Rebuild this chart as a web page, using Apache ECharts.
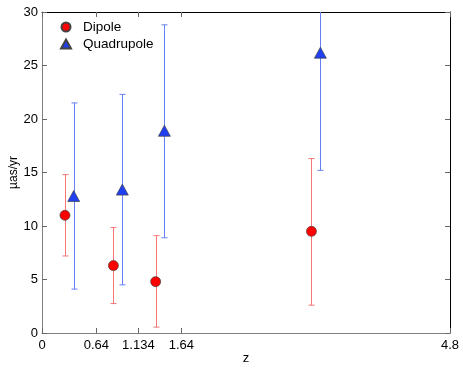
<!DOCTYPE html>
<html lang="en">
<head>
    <meta charset="UTF-8">
    <title>Dipole / Quadrupole</title>
    <script src="https://cdn.jsdelivr.net/npm/echarts@6.0.0/dist/echarts.min.js"></script>
    <style>
        html, body { margin: 0; padding: 0; background: #fff; }
    </style>
</head>
<body>
    <div id="main" style="width: 463px;height:369px;"></div>

    <script>
        // x ticks used on the plot
        var xTicks = [0, 0.64, 1.134, 1.64, 4.8];

        // dipole: z, value, lower, upper
        var dipoleZ = [0.27, 0.84, 1.337, 3.17];
        var dipoleVal = [11.0, 6.3, 4.8, 9.5];
        var dipoleLow = [7.2, 2.75, 0.55, 2.6];
        var dipoleHigh = [14.8, 9.85, 9.1, 16.3];

        // quadrupole
        var quadZ = [0.373, 0.945, 1.44, 3.275];
        var quadVal = [12.8, 13.4, 18.9, 26.2];
        var quadLow = [4.1, 4.5, 8.9, 15.2];
        var quadHigh = [21.5, 22.3, 28.8, 37.0];

        var font = 'Liberation Sans, Arial, sans-serif';

        function pack(zs, lo, hi) {
            return zs.map(function (z, i) { return [z, lo[i], hi[i]]; });
        }

        function errBar(color) {
            return function (params, api) {
                var cs = params.coordSys;
                var top = api.coord([api.value(0), api.value(2)]);
                var bot = api.coord([api.value(0), api.value(1)]);
                var x = Math.round(top[0]) + 0.5;
                var yTop = Math.max(top[1], cs.y);
                var yBot = Math.min(bot[1], cs.y + cs.height);
                var cap = 3;
                var st = { stroke: color, lineWidth: 1 };
                var kids = [{ type: 'line', shape: { x1: x, y1: yTop, x2: x, y2: yBot }, style: st }];
                if (top[1] >= cs.y) {
                    kids.push({ type: 'line', shape: { x1: x - cap, y1: top[1], x2: x + cap, y2: top[1] }, style: st });
                }
                if (bot[1] <= cs.y + cs.height) {
                    kids.push({ type: 'line', shape: { x1: x - cap, y1: bot[1], x2: x + cap, y2: bot[1] }, style: st });
                }
                return { type: 'group', children: kids };
            };
        }

        var myChart = echarts.init(document.getElementById('main'));
        var option = {
            animation: false,
            textStyle: { fontFamily: font },
            grid: { left: 42, right: 13, top: 12, bottom: 36, outerBoundsMode: 'none', containLabel: false },
            legend: {
                left: 55,
                top: 15,
                orient: 'vertical',
                itemGap: 3,
                itemWidth: 10,
                itemHeight: 9,
                textStyle: { fontSize: 13.5, color: '#000', fontFamily: font, padding: [0, 0, 0, 7] },
                data: ['Dipole', 'Quadrupole']
            },
            xAxis: [{
                type: 'value', min: 0, max: 4.8,
                name: 'z', nameLocation: 'middle', nameGap: 19, nameMoveOverlap: false,
                nameTextStyle: { fontSize: 13, color: '#000' },
                axisLine: { onZero: false, lineStyle: { color: '#808080' } },
                axisTick: { inside: true, length: 5, customValues: xTicks, lineStyle: { color: '#666' } },
                axisLabel: { customValues: xTicks, fontSize: 13, color: '#000', margin: 6 },
                splitLine: { show: false }
            }, {
                type: 'value', min: 0, max: 4.8, position: 'top',
                axisLine: { show: true, onZero: false, lineStyle: { color: '#000' } },
                axisTick: { inside: true, length: 5, customValues: xTicks, lineStyle: { color: '#666' } },
                axisLabel: { show: false },
                splitLine: { show: false }
            }],
            yAxis: [{
                type: 'value', min: 0, max: 30, interval: 5,
                name: 'µas/yr', nameLocation: 'middle', nameGap: 22, nameMoveOverlap: false,
                nameTextStyle: { fontSize: 12, color: '#000' },
                axisLine: { show: true, onZero: false, lineStyle: { color: '#808080' } },
                axisTick: { show: true, inside: true, length: 5, lineStyle: { color: '#666' } },
                axisLabel: { fontSize: 13, color: '#000', margin: 4 },
                splitLine: { show: false }
            }, {
                type: 'value', min: 0, max: 30, interval: 5, position: 'right',
                axisLine: { show: true, onZero: false, lineStyle: { color: '#000' } },
                axisTick: { show: true, inside: true, length: 5, lineStyle: { color: '#666' } },
                axisLabel: { show: false },
                splitLine: { show: false }
            }],
            series: [
                {
                    type: 'custom', name: 'dipErr', silent: true,
                    renderItem: errBar('#f47676'),
                    encode: { x: 0, y: [1, 2] },
                    data: pack(dipoleZ, dipoleLow, dipoleHigh), z: 1
                },
                {
                    type: 'custom', name: 'quadErr', silent: true,
                    renderItem: errBar('#6680f5'),
                    encode: { x: 0, y: [1, 2] },
                    data: pack(quadZ, quadLow, quadHigh), z: 1
                },
                {
                    name: 'Dipole', type: 'scatter', symbol: 'circle', symbolSize: 10,
                    itemStyle: { color: '#ff0000', borderColor: '#444', borderWidth: 0.7, opacity: 1 },
                    data: dipoleZ.map(function (z, i) { return [z, dipoleVal[i]]; }), z: 3
                },
                {
                    name: 'Quadrupole', type: 'scatter', symbol: 'triangle', symbolSize: [12, 11],
                    itemStyle: { color: '#1f3ff0', borderColor: '#444', borderWidth: 0.7, opacity: 1 },
                    data: quadZ.map(function (z, i) { return [z, quadVal[i]]; }), z: 3
                }
            ]
        };
        myChart.setOption(option);
    </script>
</body>
</html>
